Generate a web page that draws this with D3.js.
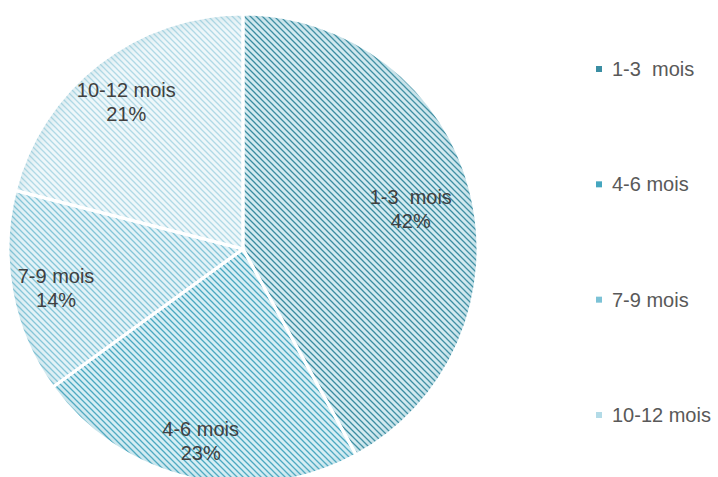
<!DOCTYPE html>
<html>
<head>
<meta charset="utf-8">
<script src="https://cdn.jsdelivr.net/npm/d3@7"></script>
<style>
  body { margin: 0; background: #fff; }
  svg { display: block; font-family: "Liberation Sans", Arial, sans-serif; }
  text { white-space: pre; }
</style>
</head>
<body>
<svg id="chart" width="718" height="477"></svg>
<script>
const categories = ["1-3  mois", "4-6 mois", "7-9 mois", "10-12 mois"];
const shares = [42, 23, 14, 21];

const stripeColors = ["#3a8ca1", "#4aa8c1", "#84c5d8", "#b0d9e6"];
const backColors   = ["#d3eaf0", "#d6eef4", "#e2f2f7", "#eef7fa"];
const legendColors = ["#3b8ea3", "#45a6bf", "#7cc2d6", "#b3dbe7"];
const labelRadius  = [0.737, 0.826, 0.81, 0.81];

const svg = d3.select("#chart");
const cx = 243, cy = 249, radius = 235;

const defs = svg.append("defs");
categories.forEach((c, i) => {
    let p = defs.append("pattern")
        .attr("id", "stripe" + i)
        .attr("patternUnits", "userSpaceOnUse")
        .attr("width", 6).attr("height", 6);
    p.append("rect").attr("width", 6).attr("height", 6).attr("fill", backColors[i]);
    p.append("path")
        .attr("d", "M-1,-1 L7,7 M-1,5 L1,7 M5,-1 L7,1")
        .attr("stroke", stripeColors[i])
        .attr("stroke-width", 1.3);
});

// soft edge shading
let grad = defs.append("radialGradient").attr("id", "shade")
    .attr("gradientUnits", "userSpaceOnUse")
    .attr("cx", 0).attr("cy", 0).attr("r", radius);
grad.append("stop").attr("offset", "0.92").attr("stop-color", "#fff").attr("stop-opacity", 0);
grad.append("stop").attr("offset", "1").attr("stop-color", "#5a9fb0").attr("stop-opacity", 0.15);

const pie = d3.pie().sort(null).value(d => d)(shares);
const arc = d3.arc().innerRadius(0).outerRadius(radius);

const g = svg.append("g").attr("transform", `translate(${cx},${cy})`);

g.selectAll(".slice")
    .data(pie)
    .join("path")
    .attr("class", "slice")
    .attr("d", arc)
    .attr("fill", (d, i) => `url(#stripe${i})`);

g.selectAll(".shade")
    .data(pie)
    .join("path")
    .attr("class", "shade")
    .attr("d", arc)
    .attr("fill", "url(#shade)");

g.selectAll(".edge")
    .data(pie)
    .join("path")
    .attr("class", "edge")
    .attr("d", arc)
    .attr("fill", "none")
    .attr("stroke", "#fff")
    .attr("stroke-width", 3)
    .attr("stroke-linejoin", "round");

const labels = g.selectAll(".lbl")
    .data(pie)
    .join("text")
    .attr("class", "lbl")
    .attr("text-anchor", "middle")
    .attr("fill", "#404040")
    .attr("font-size", 20)
    .attr("transform", (d, i) => {
        let a = (d.startAngle + d.endAngle) / 2;
        let r = radius * labelRadius[i];
        return `translate(${Math.sin(a) * r},${-Math.cos(a) * r})`;
    });
labels.append("tspan").attr("x", 0).attr("dy", "-0.1em").text((d, i) => categories[i]);
labels.append("tspan").attr("x", 0).attr("dy", "1.2em").text(d => d.data + "%");

const ly = d3.scalePoint().domain(categories).range([69, 415]);
const legend = svg.selectAll(".leg")
    .data(categories)
    .join("g")
    .attr("class", "leg")
    .attr("transform", d => `translate(596,${ly(d)})`);
legend.append("rect")
    .attr("x", 0).attr("y", -3).attr("width", 6).attr("height", 6)
    .attr("fill", (d, i) => legendColors[i]);
legend.append("text")
    .attr("x", 16).attr("y", 7)
    .attr("font-size", 20)
    .attr("fill", "#595959")
    .text(d => d);
</script>
</body>
</html>
